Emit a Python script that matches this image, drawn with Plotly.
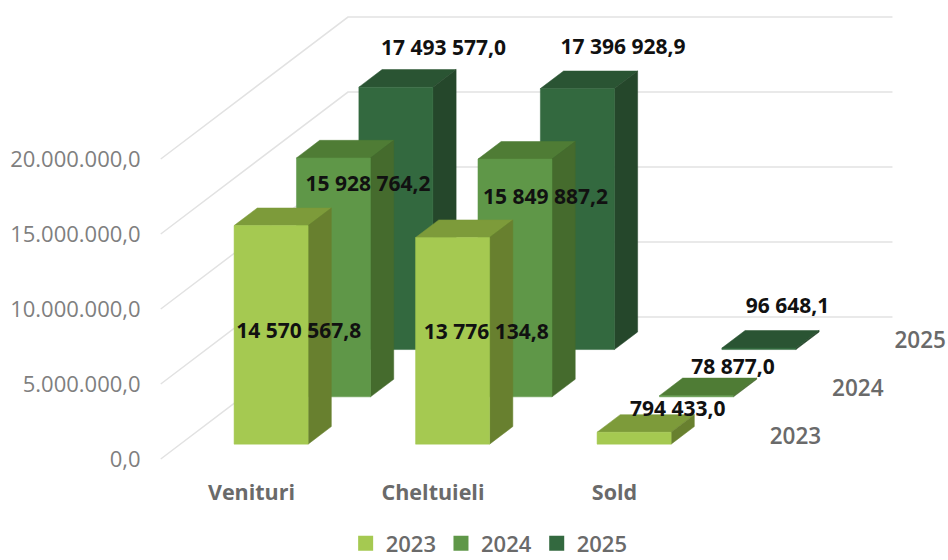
import plotly.graph_objects as go

# ---- data ----
categories = ["Venituri", "Cheltuieli", "Sold"]
series_names = ["2023", "2024", "2025"]
values_2023 = [14570567.8, 13776134.8, 794433.0]
values_2024 = [15928764.2, 15849887.2, 78877.0]
values_2025 = [17493577.0, 17396928.9, 96648.1]
value_ticks = [0, 5000000, 10000000, 15000000, 20000000]
value_tick_labels = ["0,0", "5.000.000,0", "10.000.000,0", "15.000.000,0", "20.000.000,0"]

# ---- style ----
front_colors = ["#a5c951", "#5f9748", "#33693f"]
top_colors = ["#7d9b3a", "#4f7c35", "#2a5433"]
side_colors = ["#68802f", "#456b2d", "#25472b"]
grid_color = "#e2e2e2"
text_gray = "#6a6a6a"
FONT = "Open Sans, sans-serif"

# oblique projection, in axis units
PX_X = 181.5            # pixels per category
PX_Y = 15 / 1e6         # pixels per value unit
DEPTH_X = 62.4 / PX_X   # category units per depth unit
DEPTH_Y = 47.3 / PX_Y   # value units per depth unit
BAR_W = 0.408
BAR_D = 0.372


def proj(cat, depth, value):
    return cat + depth * DEPTH_X, value + depth * DEPTH_Y


fig = go.Figure()

# wall grid lines
for v in value_ticks:
    pts = [proj(-0.5, 0, v), proj(-0.5, 3, v), proj(2.5, 3, v)]
    fig.add_trace(go.Scatter(x=[p[0] for p in pts], y=[p[1] for p in pts], mode="lines",
                             line=dict(color=grid_color, width=1.5), showlegend=False, hoverinfo="skip"))


def poly(points, color):
    xs = [p[0] for p in points] + [points[0][0]]
    ys = [p[1] for p in points] + [points[0][1]]
    fig.add_trace(go.Scatter(x=xs, y=ys, mode="lines", fill="toself", fillcolor=color,
                             line=dict(color=color, width=0.5), showlegend=False, hoverinfo="skip"))


all_values = [values_2023, values_2024, values_2025]

# bars, back row first
for s in [2, 1, 0]:
    d0 = s + 0.5 - BAR_D / 2
    d1 = s + 0.5 + BAR_D / 2
    for c, v in enumerate(all_values[s]):
        l = c - BAR_W / 2
        r = c + BAR_W / 2
        poly([proj(l, d0, v), proj(r, d0, v), proj(r, d1, v), proj(l, d1, v)], top_colors[s])
        poly([proj(r, d0, 0), proj(r, d1, 0), proj(r, d1, v), proj(r, d0, v)], side_colors[s])
        poly([proj(l, d0, 0), proj(r, d0, 0), proj(r, d0, v), proj(l, d0, v)], front_colors[s])

# depth-axis labels
depth_pts = [proj(2.825, s + 0.5, -200000 + 60000 * s) for s in range(3)]
fig.add_trace(go.Scatter(x=[p[0] for p in depth_pts], y=[p[1] for p in depth_pts], mode="text",
                         text=series_names, textposition="middle center",
                         textfont=dict(family=FONT, size=22.5, color=text_gray, weight=600),
                         showlegend=False, hoverinfo="skip", cliponaxis=False))

# data labels
label_nudges = [
    [(16, 116), (22, 105), (32, -13)],
    [(23, 37), (19, 48), (25, -18)],
    [(36, -29), (34, -31), (17, -32)],
]


def fmt(v):
    return f"{v:,.1f}".replace(",", " ").replace(".", ",")


lx, ly, lt = [], [], []
for s in range(3):
    for c, v in enumerate(all_values[s]):
        x, y = proj(c, s + 0.5, v)
        dx, dy = label_nudges[s][c]
        lx.append(x + dx / PX_X)
        ly.append(y - dy / PX_Y)
        lt.append(fmt(v))
fig.add_trace(go.Scatter(x=lx, y=ly, mode="text", text=lt, textposition="middle center",
                         textfont=dict(family=FONT, size=21, color="#111111", weight=700),
                         showlegend=False, hoverinfo="skip"))

# legend entries
for s, name in enumerate(series_names):
    fig.add_trace(go.Scatter(x=[None], y=[None], mode="markers", name=name,
                             marker=dict(symbol="square", size=15, color=front_colors[s])))

PLOT_L, PLOT_B = 150, 471
X0_PX, Y0_PX = 251.5, 459
fig.update_layout(
    width=948, height=560,
    margin=dict(l=PLOT_L, r=0, t=0, b=560 - PLOT_B, autoexpand=False),
    paper_bgcolor="white", plot_bgcolor="white",
    showlegend=True,
    legend=dict(orientation="h", x=0.425, xanchor="center", y=-0.154, yanchor="middle",
                font=dict(family=FONT, size=22, color=text_gray, weight=600),
                itemwidth=30, traceorder="normal", itemclick=False, itemdoubleclick=False),
    xaxis=dict(range=[(PLOT_L - X0_PX) / PX_X, (948 - X0_PX) / PX_X],
               tickmode="array", tickvals=[0, 1, 2], ticktext=categories,
               showgrid=False, zeroline=False, showline=False,
               ticks="outside", ticklen=2, tickcolor="rgba(0,0,0,0)",
               tickfont=dict(family=FONT, size=21.5, color=text_gray, weight=700)),
    yaxis=dict(range=[(Y0_PX - PLOT_B) / PX_Y, Y0_PX / PX_Y],
               tickmode="array", tickvals=value_ticks, ticktext=value_tick_labels,
               showgrid=False, zeroline=False, showline=False,
               ticks="outside", ticklen=4, tickcolor="rgba(0,0,0,0)",
               tickfont=dict(family=FONT, size=22, color="#7f7f7f")),
)
fig.write_html("out.html", config={"displayModeBar": False},
               post_script="document.body.style.margin='0';document.documentElement.style.overflow='hidden';")
